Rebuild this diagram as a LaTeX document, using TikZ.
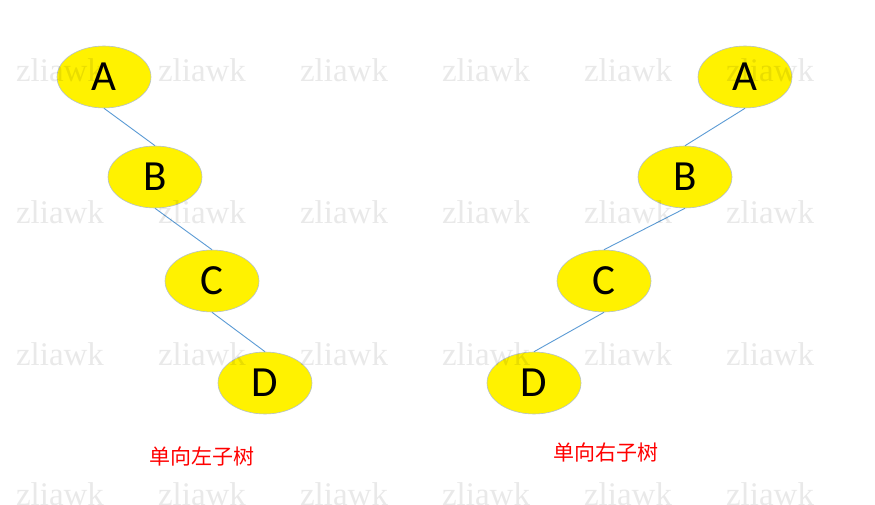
\documentclass[tikz,border=0pt]{standalone}
\usepackage{fontspec}
\setmainfont{Carlito}
\newfontfamily\cjk{Noto Sans CJK SC}
\newfontfamily\wmfont{Liberation Serif}
\usetikzlibrary{shapes.geometric}
\definecolor{edgeblue}{HTML}{5B9BD5}
\definecolor{rimgray}{HTML}{B4C0CC}
\tikzset{
  treenode/.style={ellipse, draw=rimgray, line width=0.6pt, fill=yellow, minimum width=94pt, minimum height=62pt, inner sep=0pt, font=\fontsize{43}{43}\selectfont},
  treeedge/.style={draw=edgeblue, line width=0.9pt},
  wmark/.style={text=black, text opacity=0.085, font=\wmfont\fontsize{33}{33}\selectfont, inner sep=0pt},
  caption/.style={text=red, font=\cjk\fontsize{21}{21}\selectfont, inner sep=0pt}
}
\begin{document}
\begin{tikzpicture}[x=1pt,y=-1pt]
\useasboundingbox (0,0) rectangle (875,505);
\fill[white] (0,0) rectangle (875,505);
% left tree
\node[treenode] (LA) at (104,77) {A};
\node[treenode] (LB) at (155,177) {B};
\node[treenode] (LC) at (212,281) {C};
\node[treenode] (LD) at (265,383) {D};
\draw[treeedge] (LA.south) -- (LB.north);
\draw[treeedge] (LB.south) -- (LC.north);
\draw[treeedge] (LC.south) -- (LD.north);
% right tree
\node[treenode] (RA) at (745,77) {A};
\node[treenode] (RB) at (685,177) {B};
\node[treenode] (RC) at (604,281) {C};
\node[treenode] (RD) at (534,383) {D};
\draw[treeedge] (RA.south) -- (RB.north);
\draw[treeedge] (RB.south) -- (RC.north);
\draw[treeedge] (RC.south) -- (RD.north);
% captions
\node[caption] (capL) at (202,456) {单向左子树};
\node[caption] (capR) at (606,453) {单向右子树};
% watermarks (drawn on top, faint)
\foreach \r [count=\i] in {70,212,354,494} {
  \foreach \c [count=\j] in {60,202,344,486,628,770} {
    \node[wmark] (wm\i\j) at (\c,\r) {zliawk};
  }
}
\end{tikzpicture}
\end{document}
